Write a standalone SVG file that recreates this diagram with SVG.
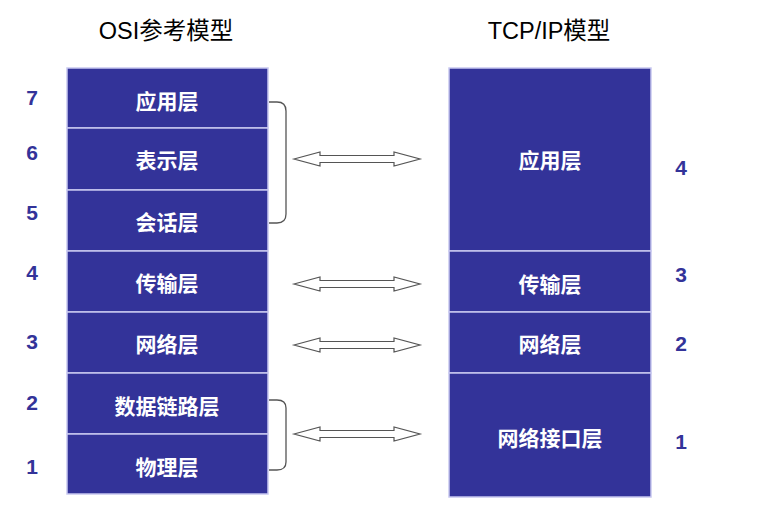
<svg xmlns="http://www.w3.org/2000/svg" width="769" height="521" viewBox="0 0 769 521">
<style>
.box{fill:#333399;stroke:#c8c8f0;stroke-width:1.5}
.lbl{font-family:"Liberation Sans","Noto Sans CJK SC",sans-serif;font-size:21px;font-weight:bold;fill:#ffffff;text-anchor:middle;dominant-baseline:central}
.num{font-family:"Liberation Sans",Arial,sans-serif;font-size:21px;font-weight:bold;fill:#333399;text-anchor:middle;dominant-baseline:central}
.title{font-family:"Liberation Sans","Noto Sans CJK SC",sans-serif;font-size:23.5px;fill:#000;text-anchor:middle;dominant-baseline:central}
.arr{fill:#fff;stroke:#555;stroke-width:1.2}
.brk{fill:none;stroke:#555;stroke-width:1.3}
</style>
<rect width="769" height="521" fill="#fff"/>
<text class="title" x="166" y="31">OSI参考模型</text>
<text class="title" x="549" y="31">TCP/IP模型</text>

<g id="osi">
<g id="osi7"><rect class="box" x="67" y="68" width="201" height="60"/><text class="lbl" x="167" y="101">应用层</text></g>
<g id="osi6"><rect class="box" x="67" y="128" width="201" height="62"/><text class="lbl" x="167" y="160">表示层</text></g>
<g id="osi5"><rect class="box" x="67" y="190" width="201" height="61"/><text class="lbl" x="167" y="222">会话层</text></g>
<g id="osi4"><rect class="box" x="67" y="251" width="201" height="61"/><text class="lbl" x="167" y="283">传输层</text></g>
<g id="osi3"><rect class="box" x="67" y="312" width="201" height="61"/><text class="lbl" x="167" y="344">网络层</text></g>
<g id="osi2"><rect class="box" x="67" y="373" width="201" height="61"/><text class="lbl" x="167" y="406">数据链路层</text></g>
<g id="osi1"><rect class="box" x="67" y="434" width="201" height="60"/><text class="lbl" x="167" y="467">物理层</text></g>
</g>

<g id="tcp">
<g id="tcp4"><rect class="box" x="449" y="68" width="202" height="183"/><text class="lbl" x="550" y="160">应用层</text></g>
<g id="tcp3"><rect class="box" x="449" y="251" width="202" height="61"/><text class="lbl" x="550" y="284">传输层</text></g>
<g id="tcp2"><rect class="box" x="449" y="312" width="202" height="61"/><text class="lbl" x="550" y="344">网络层</text></g>
<g id="tcp1"><rect class="box" x="449" y="373" width="202" height="124"/><text class="lbl" x="550" y="438">网络接口层</text></g>
</g>

<g id="numbers">
<text class="num" x="32" y="97">7</text>
<text class="num" x="32" y="152">6</text>
<text class="num" x="32" y="212">5</text>
<text class="num" x="32" y="272">4</text>
<text class="num" x="32" y="341">3</text>
<text class="num" x="32" y="402">2</text>
<text class="num" x="32" y="466">1</text>
<text class="num" x="681" y="167">4</text>
<text class="num" x="681" y="274">3</text>
<text class="num" x="681" y="343">2</text>
<text class="num" x="681" y="441">1</text>
</g>

<g id="connectors">
<path class="brk" d="M269,102 H277 Q286,102 286,111 V214 Q286,223 277,223 H269"/>
<path class="brk" d="M269,400 H277 Q286,400 286,408 V462 Q286,470 277,470 H269"/>
<polygon class="arr" points="294,159 320,152 320,155.5 394,155.5 394,152 420,159 394,166 394,162.5 320,162.5 320,166"/>
<polygon class="arr" points="294,284 320,277 320,280.5 394,280.5 394,277 420,284 394,291 394,287.5 320,287.5 320,291"/>
<polygon class="arr" points="294,345 320,338 320,341.5 394,341.5 394,338 420,345 394,352 394,348.5 320,348.5 320,352"/>
<polygon class="arr" points="294,434 320,427 320,430.5 394,430.5 394,427 420,434 394,441 394,437.5 320,437.5 320,441"/>
</g>
</svg>
